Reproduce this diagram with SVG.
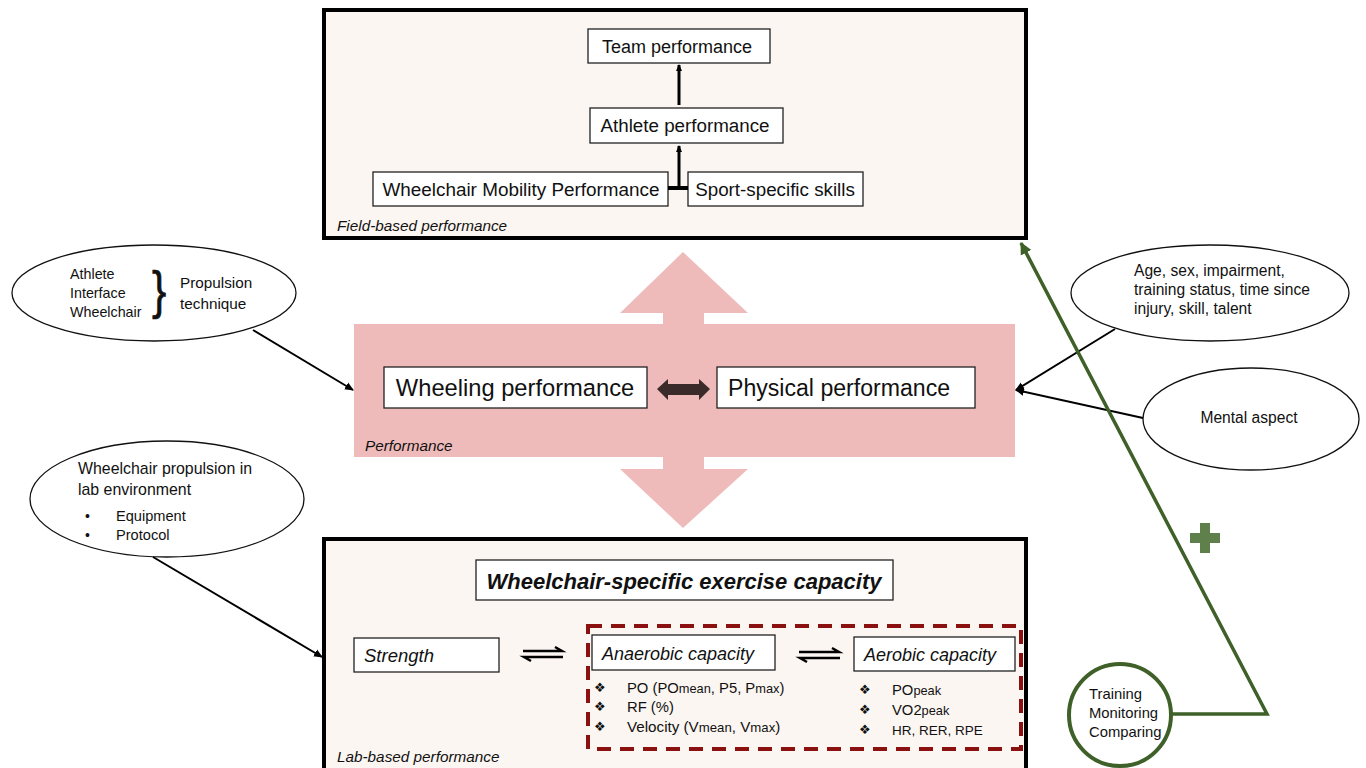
<svg xmlns="http://www.w3.org/2000/svg" width="1366" height="768" viewBox="0 0 1366 768">
<style>
text{font-family:"Liberation Sans",Arial,sans-serif;fill:#111}
.frame{fill:#fcf6f2;stroke:#000;stroke-width:4}
.box{fill:#fff;stroke:#222;stroke-width:1.3}
.ell{fill:#fff;stroke:#111;stroke-width:1.3}
.conn{stroke:#000;stroke-width:2;fill:none}
.thick{stroke:#000;stroke-width:3;fill:none}
.it{font-style:italic}
.b{font-family:"DejaVu Sans",sans-serif;font-size:13px}
</style>
<defs>
<marker id="ah" markerWidth="10" markerHeight="10" refX="8" refY="5" orient="auto" markerUnits="userSpaceOnUse">
<path d="M0,1 L9,5 L0,9 Z" fill="#000"/>
</marker>
<marker id="ahs" markerWidth="8" markerHeight="8" refX="6" refY="4" orient="auto" markerUnits="userSpaceOnUse">
<path d="M0,1 L7,4 L0,7 Z" fill="#000"/>
</marker>
<marker id="ag" markerWidth="14" markerHeight="14" refX="11" refY="7" orient="auto" markerUnits="userSpaceOnUse">
<path d="M0,1 L12,7 L0,13 Z" fill="#3f6129"/>
</marker>
</defs>

<!-- Field-based frame -->
<g id="field-frame">
<rect class="frame" x="324" y="10" width="702" height="228"/>
<text class="it" x="337" y="231" font-size="15.3">Field-based performance</text>
</g>
<g id="team"><rect class="box" x="588" y="29" width="182" height="34"/><text x="677" y="53" font-size="18" text-anchor="middle">Team performance</text></g>
<g id="athlete"><rect class="box" x="590" y="108" width="193" height="35"/><text x="685" y="132" font-size="18.8" text-anchor="middle">Athlete performance</text></g>
<g id="wmp"><rect class="box" x="373" y="172" width="295" height="34"/><text x="521" y="196" font-size="18.9" text-anchor="middle">Wheelchair Mobility Performance</text></g>
<g id="sport"><rect class="box" x="688" y="172" width="175" height="34"/><text x="775" y="196" font-size="18.8" text-anchor="middle">Sport-specific skills</text></g>

<!-- Performance (pink) -->
<g id="performance">
<path d="M683,252 L748,313 L704,313 L704,324 L1015,324 L1015,457 L704,457 L704,469 L748,469 L683,528 L620,469 L663,469 L663,457 L354,457 L354,324 L663,324 L663,313 L620,313 Z" fill="#efbaba"/>
<text class="it" x="365" y="451" font-size="15.3">Performance</text>
</g>
<g id="wheeling"><rect class="box" x="384" y="367" width="263" height="41"/><text x="515" y="396" font-size="23.7" text-anchor="middle">Wheeling performance</text></g>
<g id="physical"><rect class="box" x="717" y="367" width="258" height="41"/><text x="728" y="396" font-size="23.1">Physical performance</text></g>

<!-- Left ellipses -->
<g id="propulsion">
<ellipse class="ell" cx="154" cy="293" rx="142" ry="48"/>
<text x="70" y="279" font-size="14.3">Athlete</text>
<text x="70" y="298" font-size="14.3">Interface</text>
<text x="70" y="317" font-size="14.3">Wheelchair</text>
<text x="0" y="0" font-size="45" transform="translate(152,308) scale(0.95,1.15)" stroke="#111" stroke-width="0.6">}</text>
<text x="180" y="288" font-size="15.3">Propulsion</text>
<text x="180" y="309" font-size="15.3">technique</text>
</g>
<g id="lab-env">
<ellipse class="ell" cx="167" cy="499" rx="137" ry="58"/>
<text x="78" y="474" font-size="15.9">Wheelchair propulsion in</text>
<text x="78" y="495" font-size="15.9">lab environment</text>
<text x="85" y="521" font-size="14">•</text>
<text x="116" y="521" font-size="14.6">Equipment</text>
<text x="85" y="540" font-size="14">•</text>
<text x="116" y="540" font-size="14.6">Protocol</text>
</g>

<!-- Right ellipses -->
<g id="factors">
<ellipse class="ell" cx="1210" cy="293" rx="139" ry="48"/>
<text x="1134" y="276" font-size="15.6">Age, sex, impairment,</text>
<text x="1134" y="295" font-size="15.6">training status, time since</text>
<text x="1134" y="314" font-size="15.6">injury, skill, talent</text>
</g>
<g id="mental">
<ellipse class="ell" cx="1251" cy="419" rx="108" ry="51"/>
<text x="1249" y="423" font-size="15.6" text-anchor="middle">Mental aspect</text>
</g>

<!-- Lab-based frame -->
<g id="lab-frame">
<rect class="frame" x="324" y="539" width="702" height="240"/>
<text class="it" x="337" y="762" font-size="15.3">Lab-based performance</text>
</g>
<g id="capacity"><rect class="box" x="476" y="560" width="417" height="40"/><text x="684" y="589" font-size="22" font-weight="bold" font-style="italic" text-anchor="middle">Wheelchair-specific exercise capacity</text></g>
<g id="strength"><rect class="box" x="354" y="638" width="145" height="34"/><text class="it" x="364" y="662" font-size="18.5">Strength</text></g>
<rect id="dashed" x="588" y="626" width="433" height="123" fill="none" stroke="#8b1010" stroke-width="4" stroke-dasharray="14,9"/>
<g id="anaerobic">
<rect class="box" x="592" y="635" width="183" height="35"/><text class="it" x="602" y="660" font-size="18">Anaerobic capacity</text>
<text class="b" x="594" y="692">❖</text><text x="627" y="693" font-size="14.8">PO (PO<tspan font-size="12.8">mean</tspan>, P5, P<tspan font-size="12.8">max</tspan>)</text>
<text class="b" x="594" y="711">❖</text><text x="627" y="712" font-size="14.8">RF (%)</text>
<text class="b" x="594" y="731">❖</text><text x="627" y="732" font-size="15.2">Velocity (V<tspan font-size="13.2">mean</tspan>, V<tspan font-size="13.2">max</tspan>)</text>
</g>
<g id="aerobic">
<rect class="box" x="854" y="637" width="161" height="34"/><text class="it" x="864" y="661" font-size="18">Aerobic capacity</text>
<text class="b" x="859" y="694">❖</text><text x="892" y="695" font-size="14.8">PO<tspan font-size="12.8">peak</tspan></text>
<text class="b" x="859" y="714">❖</text><text x="892" y="715" font-size="14.8">VO2<tspan font-size="12.8">peak</tspan></text>
<text class="b" x="859" y="734">❖</text><text x="892" y="735" font-size="13.5">HR, RER, RPE</text>
</g>

<!-- Training circle -->
<g id="training">
<circle cx="1120" cy="715" r="51" fill="#fff" stroke="#3f6129" stroke-width="4"/>
<text x="1089" y="699" font-size="14.8">Training</text>
<text x="1089" y="718" font-size="14.8">Monitoring</text>
<text x="1089" y="737" font-size="14.8">Comparing</text>
</g>
<g id="plus"><path d="M1200,523 h10 v10 h10 v10 h-10 v10 h-10 v-10 h-10 v-10 h10 Z" fill="#5f7f4b"/></g>

<!-- Connectors -->
<g id="connectors">
<line class="thick" x1="679" y1="105" x2="679" y2="65" marker-end="url(#ahs)"/>
<path d="M668,188 H688" stroke="#000" stroke-width="4" fill="none"/>
<line class="thick" x1="679" y1="188" x2="679" y2="146" marker-end="url(#ahs)"/>
<line class="conn" x1="253" y1="330" x2="353" y2="390" marker-end="url(#ah)"/>
<line class="conn" x1="153" y1="557" x2="322" y2="657" marker-end="url(#ah)"/>
<line class="conn" x1="1115" y1="329" x2="1016" y2="390" marker-end="url(#ah)"/>
<line class="conn" x1="1143" y1="418" x2="1016" y2="390" marker-end="url(#ah)"/>
<path d="M657,389 L668,379 L668,384 L699,384 L699,379 L710,389 L699,400 L699,395 L668,395 L668,400 Z" fill="#3b2a2a"/>
<path d="M523,651 H562 L555,647 M563,657 H524 L531,661" stroke="#000" stroke-width="2.5" fill="none"/>
<path d="M799,652 H839 L832,648 M840,658 H800 L807,662" stroke="#000" stroke-width="2.5" fill="none"/>
<path d="M1171,714 H1267 L1021,243" stroke="#3f6129" stroke-width="3.5" fill="none" marker-end="url(#ag)"/>
</g>
</svg>
